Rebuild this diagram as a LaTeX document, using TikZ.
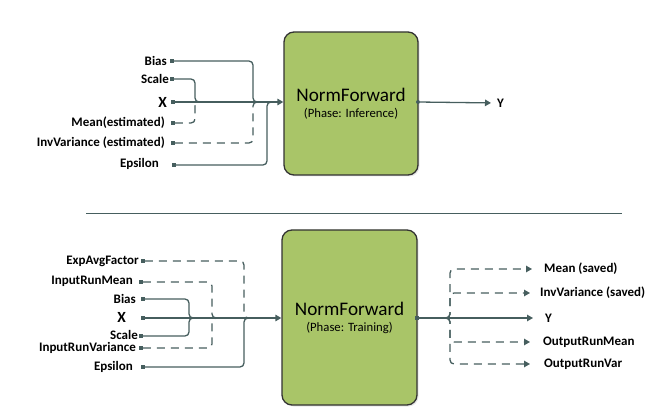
\documentclass[tikz,border=0pt]{standalone}
\usepackage{fontspec}
\setmainfont{Carlito}
\usetikzlibrary{arrows.meta,shadows}
\definecolor{wirecol}{RGB}{70,94,94}
\definecolor{boxgreen}{RGB}{169,197,104}
\tikzset{
  port/.style={fill=wirecol, inner sep=0pt, minimum size=3.2pt},
  lab/.style={anchor=east, inner sep=0pt, font=\bfseries\fontsize{13}{15}\selectfont},
  outlab/.style={lab, anchor=west},
  bigx/.style={lab, font=\bfseries\fontsize{15.5}{17}\selectfont},
  link/.style={draw=wirecol, line width=1.3pt},
  opt/.style={link, dash pattern=on 8pt off 6pt},
  arr/.style={-{Triangle[length=6pt,width=6.5pt]}},
  normbox/.style={draw=black!80, fill=boxgreen, line width=1.3pt, rounded corners=10pt,
    align=center, font=\fontsize{12.7}{16}\selectfont,
    drop shadow={opacity=0.18, shadow xshift=1.5pt, shadow yshift=-1.5pt}},
}
\begin{document}
\begin{tikzpicture}[x=1pt, y=-1pt]
\useasboundingbox (0,0) rectangle (659,414);

% ---- inference ----
\node[normbox, minimum width=134pt, minimum height=143pt] (nf1) at (351,103.5)
  {{\fontsize{19.2}{22}\selectfont NormForward}\\(Phase: Inference)};

\node[port] (b1) at (172,61) {};
\node[port] (s1) at (172,79) {};
\node[port] (x1) at (173,102) {};
\node[port] (m1) at (173,123) {};
\node[port] (v1) at (173,143) {};
\node[port] (e1) at (174,165) {};
\node[lab] (lb1) at (167,61) {Bias};
\node[lab] (ls1) at (169,79) {Scale};
\node[bigx] (lx1) at (167,102) {X};
\node[lab] (lm1) at (165,123) {Mean(estimated)};
\node[lab] (lv1) at (165,143) {InvVariance (estimated)};
\node[lab] (le1) at (159,164) {Epsilon};

\coordinate (js1) at (195,102);
\coordinate (jb1) at (253,102);
\coordinate (je1) at (267,102);

\draw[link, arr] (x1) -- (x1 -| nf1.west);
\draw[link, rounded corners=4pt] (b1) -| (jb1) -- ([xshift=5pt]jb1);
\draw[link, rounded corners=4pt] (s1) -| (js1) -- ([xshift=5pt]js1);
\draw[opt, rounded corners=4pt] (m1) -| (js1) -- ([xshift=5pt]js1);
\draw[opt, rounded corners=4pt] (v1) -| (jb1) -- ([xshift=5pt]jb1);
\draw[link, rounded corners=4pt] (e1) -| (je1) -- ([xshift=5pt]je1);

\node[circle, port, minimum size=4pt] (o1) at (418,102) {};
\node[outlab] (y1) at (497,103) {Y};
\draw[link, arr, shorten >=6pt] (o1) -- (y1.west);

% separator
\draw[link, line width=1pt] (86,214) -- (622,214);

% ---- training ----
\node[normbox, minimum width=135pt, minimum height=175pt] (nf2) at (349.5,317.5)
  {{\fontsize{19.2}{22}\selectfont NormForward}\\(Phase: Training)};

\node[port] (ea2) at (143,261) {};
\node[port] (rm2) at (141,282) {};
\node[port] (b2) at (143,299) {};
\node[port] (x2) at (143,318) {};
\node[port] (s2) at (141,336) {};
\node[port] (rv2) at (141,348) {};
\node[port] (e2) at (143,367) {};
\node[lab] (lea2) at (139,261) {ExpAvgFactor};
\node[lab] (lrm2) at (133,281) {InputRunMean};
\node[lab] (lb2) at (136,299) {Bias};
\node[bigx] (lx2) at (126,317) {X};
\node[lab] (ls2) at (138,335) {Scale};
\node[lab] (lrv2) at (136,348) {InputRunVariance};
\node[lab] (le2) at (133,367) {Epsilon};

\coordinate (jbs2) at (189,318);
\coordinate (jr2) at (212,318);
\coordinate (je2) at (244,318);

\draw[link, arr] (x2) -- (x2 -| nf2.west);
\draw[link, rounded corners=4pt] (b2) -| (jbs2) -- ([xshift=5pt]jbs2);
\draw[link, rounded corners=4pt] (s2) -| (jbs2) -- ([xshift=5pt]jbs2);
\draw[opt, rounded corners=4pt] (rm2) -| (jr2) -- ([xshift=5pt]jr2);
\draw[opt, rounded corners=4pt] (rv2) -| (jr2) -- ([xshift=5pt]jr2);
\draw[opt, rounded corners=4pt] (ea2) -| (je2) -- ([xshift=5pt]je2);
\draw[link, rounded corners=4pt] (e2) -| (je2) -- ([xshift=5pt]je2);

\node[port] (o2) at (417,318) {};
\coordinate (oj) at (446,318);
\node[outlab] (ms2) at (544,269) {Mean (saved)};
\node[outlab] (vs2) at (540,293) {InvVariance (saved)};
\node[outlab] (y2) at (545,318) {Y};
\node[outlab] (orm2) at (543,342) {OutputRunMean};
\node[outlab] (orv2) at (544,364) {OutputRunVar};

\draw[link, arr, shorten >=12pt] (o2) -- (y2.west);
\draw[opt, arr, shorten >=12pt, rounded corners=4pt] (oj) -- ++(4,0) |- (ms2.west);
\draw[opt, arr, shorten >=10pt, rounded corners=4pt] (oj) -- ++(4,0) |- (vs2.west);
\draw[opt, arr, shorten >=13pt, rounded corners=4pt] (oj) -- ++(4,0) |- (orm2.west);
\draw[opt, arr, shorten >=14pt, rounded corners=4pt] (oj) -- ++(4,0) |- (orv2.west);
\end{tikzpicture}
\end{document}
